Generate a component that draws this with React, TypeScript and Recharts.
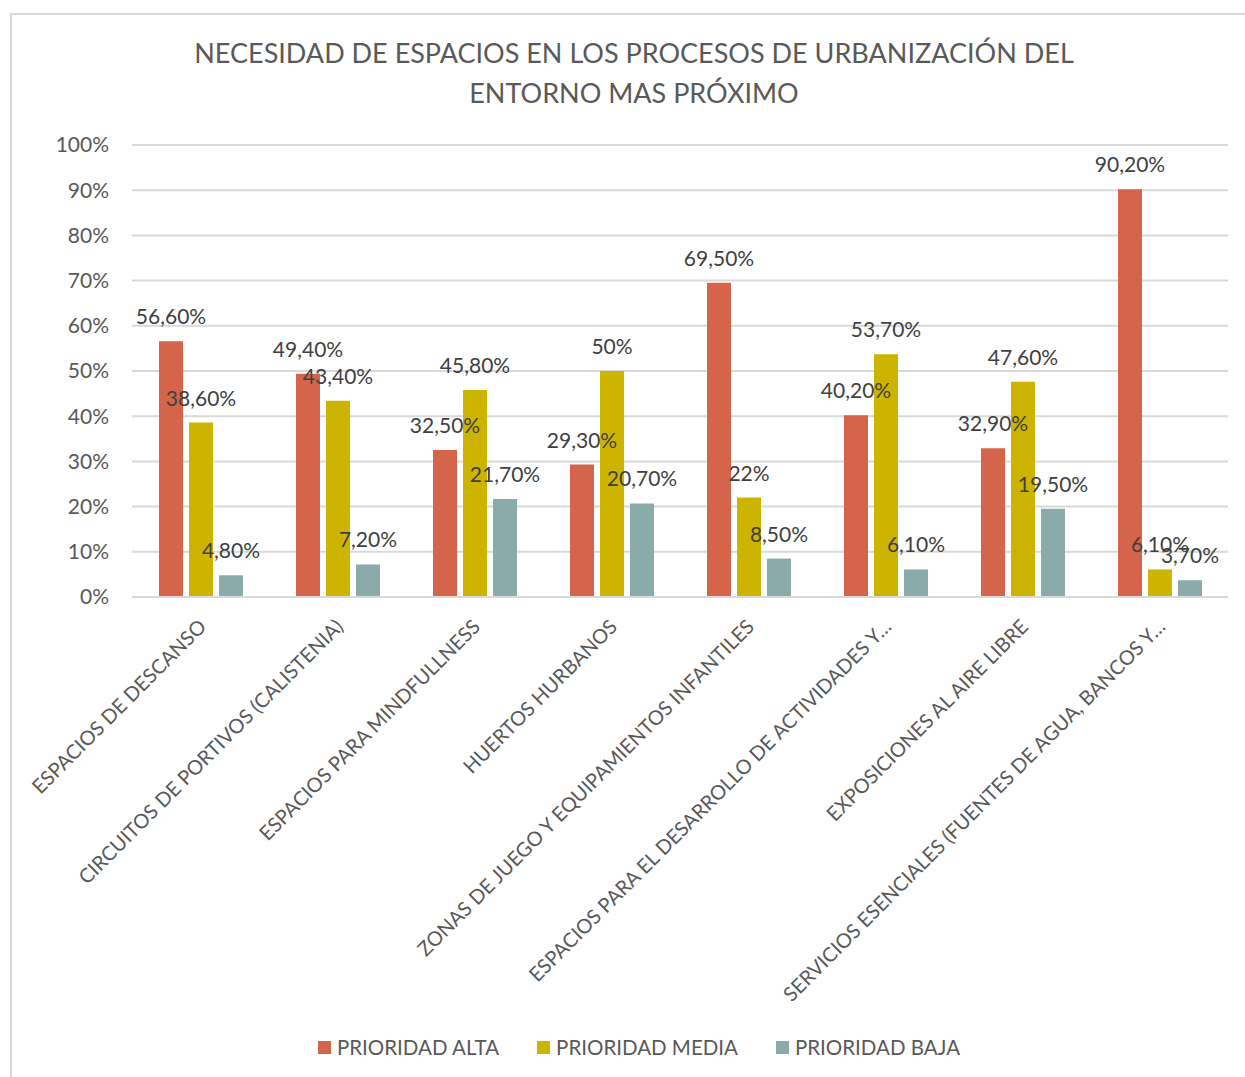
import React from "react"
import { BarChart, Bar, XAxis, YAxis, CartesianGrid, Legend, LabelList } from "recharts"

const categories = [
    "ESPACIOS DE DESCANSO",
    "CIRCUITOS DE PORTIVOS (CALISTENIA)",
    "ESPACIOS PARA MINDFULLNESS",
    "HUERTOS HURBANOS",
    "ZONAS DE JUEGO Y EQUIPAMIENTOS INFANTILES",
    "ESPACIOS PARA EL DESARROLLO DE ACTIVIDADES Y…",
    "EXPOSICIONES AL AIRE LIBRE",
    "SERVICIOS ESENCIALES (FUENTES DE AGUA, BANCOS Y…",
]
const alta = [56.6, 49.4, 32.5, 29.3, 69.5, 40.2, 32.9, 90.2]
const media = [38.6, 43.4, 45.8, 50, 22, 53.7, 47.6, 6.1]
const baja = [4.8, 7.2, 21.7, 20.7, 8.5, 6.1, 19.5, 3.7]
const yTicks = [0, 10, 20, 30, 40, 50, 60, 70, 80, 90, 100]

const seriesInfo = [
    { key: "alta", name: "PRIORIDAD ALTA", color: "#D4644A" },
    { key: "media", name: "PRIORIDAD MEDIA", color: "#CDB400" },
    { key: "baja", name: "PRIORIDAD BAJA", color: "#8BABAB" },
]

const chartData = categories.map((c, i) => ({
    name: c,
    alta: alta[i],
    media: media[i],
    baja: baja[i],
}))

const FONT = "Lato, 'Open Sans', sans-serif"

const fmt = (v: any) => {
    const n = Number(v)
    return Number.isInteger(n) ? `${n}%` : `${n.toFixed(2).replace(".", ",")}%`
}

const XTick = (props: any) => {
    const { x, payload } = props
    return (
        <text
            transform={`translate(${x + 7},${628}) rotate(-45)`}
            textAnchor="end"
            fontSize={20}
            fill="#595959"
            fontFamily={FONT}
        >
            {payload.value}
        </text>
    )
}

const LegendContent = () => (
    <div style={{ display: "flex", justifyContent: "center", fontFamily: FONT, fontSize: 20.5, color: "#595959", marginLeft: 50 }}>
        {seriesInfo.map((s) => (
            <div key={s.key} style={{ display: "flex", alignItems: "center", margin: "0 19px" }}>
                <span style={{ width: 13, height: 13, background: s.color, display: "inline-block", marginRight: 6 }} />
                <span>{s.name}</span>
            </div>
        ))}
    </div>
)

export default function App() {
    return (
        <div style={{ position: "absolute", left: 0, top: 0, width: 1245, height: 1077, background: "#fff", overflow: "hidden" }}>
            {/* chart frame */}
            <div
                style={{
                    position: "absolute",
                    left: 10,
                    top: 13,
                    width: 1245,
                    height: 1077,
                    borderLeft: "2px solid #d9d9d9",
                    borderTop: "2px solid #d9d9d9",
                }}
            />
            {/* title */}
            <div
                style={{
                    position: "absolute",
                    left: 0,
                    width: 1268,
                    top: 33,
                    textAlign: "center",
                    fontFamily: FONT,
                    fontSize: 27,
                    lineHeight: "40px",
                    color: "#595959",
                }}
            >
                NECESIDAD DE ESPACIOS EN LOS PROCESOS DE URBANIZACIÓN DEL
                <br />
                ENTORNO MAS PRÓXIMO
            </div>
            <div style={{ position: "absolute", left: 0, top: 0 }}>
                <BarChart
                    width={1245}
                    height={1077}
                    data={chartData}
                    margin={{ top: 145, right: 17, bottom: 9, left: 0 }}
                    barSize={24}
                    barGap={6}
                >
                    <CartesianGrid vertical={false} stroke="#d9d9d9" strokeWidth={2} />
                    <XAxis
                        dataKey="name"
                        interval={0}
                        tick={<XTick />}
                        tickLine={false}
                        axisLine={{ stroke: "#d9d9d9", strokeWidth: 2 }}
                        height={438}
                    />
                    <YAxis
                        width={132}
                        domain={[0, 100]}
                        ticks={yTicks}
                        tickFormatter={(v) => `${v}%`}
                        axisLine={false}
                        tickLine={false}
                        tickSize={6}
                        tickMargin={17}
                        tick={{ fontSize: 21, fill: "#595959", fontFamily: FONT }}
                    />
                    <Legend verticalAlign="bottom" height={33} content={<LegendContent />} />
                    {seriesInfo.map((s) => (
                        <Bar key={s.key} dataKey={s.key} name={s.name} fill={s.color} isAnimationActive={false}>
                            <LabelList
                                dataKey={s.key}
                                position="top"
                                offset={17}
                                formatter={fmt}
                                style={{ fontSize: 21, fill: "#404040", fontFamily: FONT }}
                            />
                        </Bar>
                    ))}
                </BarChart>
            </div>
        </div>
    )
}
